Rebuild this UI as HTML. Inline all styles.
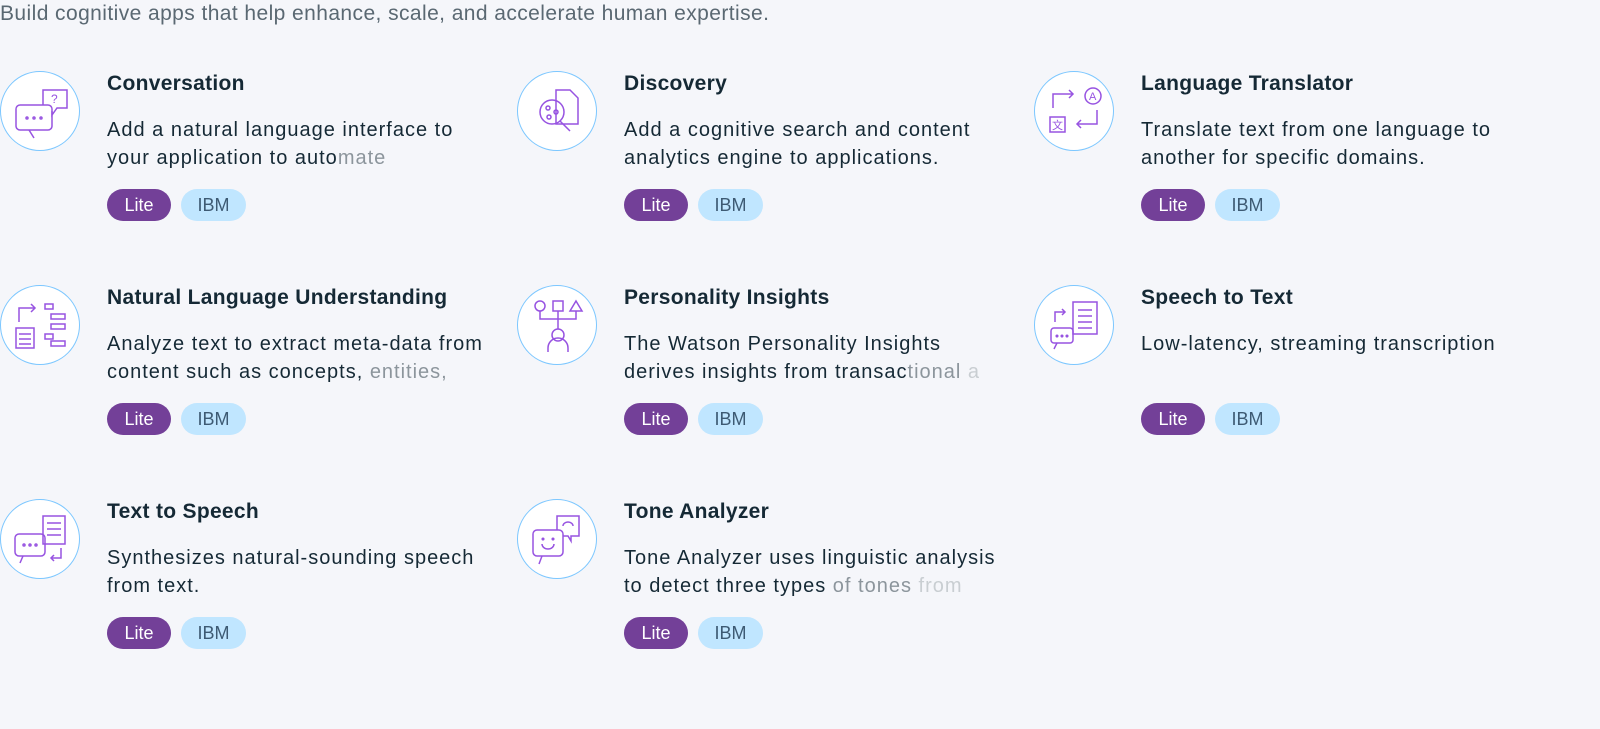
<!DOCTYPE html>
<html><head><meta charset="utf-8"><style>
body{margin:0;width:1600px;height:729px;background:#f5f6fa;font-family:"Liberation Sans",sans-serif;position:relative;overflow:hidden;color:#152935}
.hdr{position:absolute;left:0;top:2px;font-size:21px;letter-spacing:0.42px;color:#5a6872}
.card{position:absolute;width:420px;height:170px}
.ic{position:absolute;left:0;top:0;width:78px;height:78px;border:1.5px solid #7cc7ff;border-radius:50%;background:#fff}
.ic svg{position:absolute;left:0;top:0}
.t{position:absolute;left:107px;top:1px;font-size:21px;font-weight:bold;white-space:nowrap;letter-spacing:0.3px}
.d{position:absolute;left:107px;top:45px;font-size:20px;line-height:28px;width:400px;white-space:nowrap;letter-spacing:1px}
.f1{color:#8c959c}.f2{color:#c9ced2}
.p{position:absolute;top:118px;height:32px;line-height:32px;border-radius:16px;font-size:18px;text-align:center}
.lite{left:107px;width:64px;background:#734098;color:#fff}
.ibm{left:181px;width:65px;background:#c0e6ff;color:#3d5a73}
</style></head><body>
<div class="hdr">Build cognitive apps that help enhance, scale, and accelerate human expertise.</div>

<div class="card" style="left:0;top:71px">
<div class="ic"><svg width="78" height="78" fill="none" stroke="#9753e1" stroke-width="1.5"><rect x="15" y="33" width="36" height="25" rx="4"/><path d="M28 58l5 8"/><path d="M42 33v-15h24v18h-10l-5 7v-4"/><text x="50" y="31" font-size="12" fill="#9753e1" stroke="none">?</text><circle cx="26" cy="46" r="1"/><circle cx="33" cy="46" r="1"/><circle cx="40" cy="46" r="1"/></svg></div>
<div class="t">Conversation</div>
<div class="d">Add a natural language interface to<br>your application to auto<span class="f1">mate</span></div>
<div class="p lite">Lite</div><div class="p ibm">IBM</div></div>

<div class="card" style="left:517px;top:71px">
<div class="ic"><svg width="78" height="78" fill="none" stroke="#9753e1" stroke-width="1.5"><path d="M38 18h14l8 8v26h-22z"/><circle cx="34" cy="40" r="12"/><path d="M42 49l10 10"/><circle cx="30" cy="36" r="2"/><circle cx="38" cy="40" r="2"/><circle cx="31" cy="45" r="2"/></svg></div>
<div class="t">Discovery</div>
<div class="d">Add a cognitive search and content<br>analytics engine to applications.</div>
<div class="p lite">Lite</div><div class="p ibm">IBM</div></div>

<div class="card" style="left:1034px;top:71px">
<div class="ic"><svg width="78" height="78" fill="none" stroke="#9753e1" stroke-width="1.5"><path d="M18 36v-14h20"/><path d="M34 18l4 4-4 4"/><circle cx="58" cy="24" r="8"/><text x="54" y="28" font-size="11" fill="#9753e1" stroke="none">A</text><path d="M62 38v14h-20"/><path d="M46 48l-4 4 4 4"/><rect x="15" y="45" width="15" height="15"/><text x="17" y="57" font-size="11" fill="#9753e1" stroke="none" font-family="Noto Sans CJK SC">文</text></svg></div>
<div class="t">Language Translator</div>
<div class="d">Translate text from one language to<br>another for specific domains.</div>
<div class="p lite">Lite</div><div class="p ibm">IBM</div></div>

<div class="card" style="left:0;top:285px">
<div class="ic"><svg width="78" height="78" fill="none" stroke="#9753e1" stroke-width="1.5"><path d="M18 36v-14h16"/><path d="M30 18l4 4-4 4"/><rect x="15" y="42" width="18" height="20"/><path d="M18 48h12M18 53h12M18 58h12"/><rect x="44" y="18" width="8" height="5"/><rect x="50" y="28" width="14" height="5"/><rect x="50" y="38" width="14" height="5"/><rect x="44" y="48" width="8" height="5"/><rect x="50" y="55" width="14" height="5"/></svg></div>
<div class="t">Natural Language Understanding</div>
<div class="d">Analyze text to extract meta-data from<br>content such as concepts, <span class="f1">entities,</span></div>
<div class="p lite">Lite</div><div class="p ibm">IBM</div></div>

<div class="card" style="left:517px;top:285px">
<div class="ic"><svg width="78" height="78" fill="none" stroke="#9753e1" stroke-width="1.5"><circle cx="22" cy="20" r="5"/><rect x="35" y="15" width="10" height="10"/><path d="M58 15l6 10h-12z"/><path d="M22 25v8h36v-8M40 25v18"/><circle cx="40" cy="49" r="6"/><path d="M30 66v-4a10 10 0 0 1 20 0v4"/></svg></div>
<div class="t">Personality Insights</div>
<div class="d">The Watson Personality Insights<br>derives insights from transac<span class="f1">tional</span> <span class="f2">a</span></div>
<div class="p lite">Lite</div><div class="p ibm">IBM</div></div>

<div class="card" style="left:1034px;top:285px">
<div class="ic"><svg width="78" height="78" fill="none" stroke="#9753e1" stroke-width="1.5"><rect x="38" y="16" width="24" height="32"/><path d="M43 24h14M43 30h14M43 36h14M43 42h14"/><path d="M20 36v-10h10"/><path d="M27 23l3 3-3 3"/><rect x="16" y="42" width="22" height="15" rx="3"/><path d="M22 57l-3 6"/><circle cx="22" cy="50" r=".8"/><circle cx="27" cy="50" r=".8"/><circle cx="32" cy="50" r=".8"/></svg></div>
<div class="t">Speech to Text</div>
<div class="d">Low-latency, streaming transcription</div>
<div class="p lite">Lite</div><div class="p ibm">IBM</div></div>

<div class="card" style="left:0;top:499px">
<div class="ic"><svg width="78" height="78" fill="none" stroke="#9753e1" stroke-width="1.5"><rect x="42" y="16" width="22" height="28"/><path d="M46 23h14M46 29h14M46 35h14"/><rect x="14" y="34" width="30" height="22" rx="4"/><path d="M22 56l-3 7"/><circle cx="23" cy="45" r="1"/><circle cx="29" cy="45" r="1"/><circle cx="35" cy="45" r="1"/><path d="M60 48v10h-10"/><path d="M53 55l-3 3 3 3"/></svg></div>
<div class="t">Text to Speech</div>
<div class="d">Synthesizes natural-sounding speech<br>from text.</div>
<div class="p lite">Lite</div><div class="p ibm">IBM</div></div>

<div class="card" style="left:517px;top:499px">
<div class="ic"><svg width="78" height="78" fill="none" stroke="#9753e1" stroke-width="1.5"><rect x="15" y="30" width="30" height="26" rx="4"/><path d="M24 56l-3 8"/><path d="M24 44a6 5 0 0 0 12 0"/><circle cx="25" cy="39" r=".8"/><circle cx="35" cy="39" r=".8"/><path d="M45 36h5l3 5v-5h8v-20h-22v14"/><path d="M45 26a5 4 0 0 1 10 0"/></svg></div>
<div class="t">Tone Analyzer</div>
<div class="d">Tone Analyzer uses linguistic analysis<br>to detect three types <span class="f1">of tones</span> <span class="f2">from</span></div>
<div class="p lite">Lite</div><div class="p ibm">IBM</div></div>
</body></html>
